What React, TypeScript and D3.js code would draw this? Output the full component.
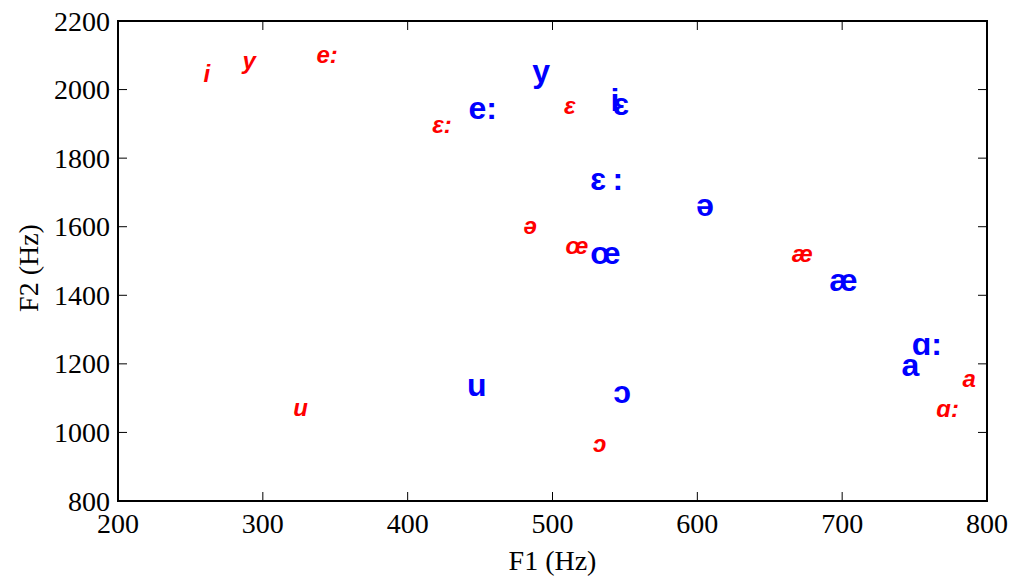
import React from "react";
import * as d3 from "d3";

const redLabels = ["i", "y", "e:", "ɛ:", "ɛ", "ə", "œ", "æ", "a", "ɑ:", "u", "ɔ"];
const redF1 = [259, 286, 337, 417, 508, 480, 509, 665, 783, 765, 321, 528];
const redF2 = [2048, 2086, 2101, 1897, 1955, 1605, 1544, 1523, 1156, 1071, 1074, 969];

const blueLabels = ["y", "e:", "i", "ɛ", "ɛ\u2009:", "ə", "œ", "æ", "ɑ:", "a", "u", "ɔ"];
const blueF1 = [486, 442, 540, 542, 526, 599, 526, 691, 748, 741, 441, 542];
const blueF2 = [2053, 1946, 1971, 1959, 1739, 1663, 1523, 1445, 1258, 1197, 1138, 1118];

const xTicks = [200, 300, 400, 500, 600, 700, 800];
const yTicks = [800, 1000, 1200, 1400, 1600, 1800, 2000, 2200];

const W = 1011;
const H = 579;
const L = 118, R = 987, T = 21, B = 501;

export default function App() {
  const x = d3.scaleLinear().domain([200, 800]).range([L, R]);
  const y = d3.scaleLinear().domain([800, 2200]).range([B, T]);
  const tk = 9;
  const serif = "'Liberation Serif', 'Times New Roman', serif";
  const sans = "'Liberation Sans', Arial, sans-serif";
  return (
    <svg width={W} height={H} style={{ position: "absolute", left: 0, top: 0, background: "#fff" }}>
      <rect x={0} y={0} width={W} height={H} fill="#fff" />
      {xTicks.map((t) => (
        <g key={"x" + t}>
          <line x1={x(t)} x2={x(t)} y1={B} y2={B - tk} stroke="#000" strokeWidth={1} />
          <line x1={x(t)} x2={x(t)} y1={T} y2={T + tk} stroke="#000" strokeWidth={1} />
          <text x={x(t)} y={B + 22} textAnchor="middle" dominantBaseline="central" fontFamily={serif} fontSize={28}>
            {t}
          </text>
        </g>
      ))}
      {yTicks.map((t) => (
        <g key={"y" + t}>
          <line x1={L} x2={L + tk} y1={y(t)} y2={y(t)} stroke="#000" strokeWidth={1} />
          <line x1={R} x2={R - tk} y1={y(t)} y2={y(t)} stroke="#000" strokeWidth={1} />
          <text x={L - 8} y={y(t)} textAnchor="end" dominantBaseline="central" fontFamily={serif} fontSize={28}>
            {t}
          </text>
        </g>
      ))}
      <rect x={L} y={T} width={R - L} height={B - T} fill="none" stroke="#000" strokeWidth={2} />
      <text x={(L + R) / 2} y={560} textAnchor="middle" dominantBaseline="central" fontFamily={serif} fontSize={28}>
        F1 (Hz)
      </text>
      <text
        transform={`translate(28, ${(T + B) / 2 + 7}) rotate(-90)`}
        textAnchor="middle"
        dominantBaseline="central"
        fontFamily={serif}
        fontSize={28}
      >
        F2 (Hz)
      </text>
      {redLabels.map((s, i) => (
        <text
          key={"r" + i}
          x={x(redF1[i])}
          y={y(redF2[i])}
          fill="#ff0000"
          fontFamily={sans}
          fontWeight="bold"
          fontStyle="italic"
          fontSize={24}
          dominantBaseline="central"
        >
          {s}
        </text>
      ))}
      {blueLabels.map((s, i) => (
        <text
          key={"b" + i}
          x={x(blueF1[i])}
          y={y(blueF2[i])}
          fill="#0000ff"
          fontFamily={sans}
          fontWeight="bold"
          fontSize={32}
          dominantBaseline="central"
          style={{ whiteSpace: "pre" }}
        >
          {s}
        </text>
      ))}
    </svg>
  );
}
